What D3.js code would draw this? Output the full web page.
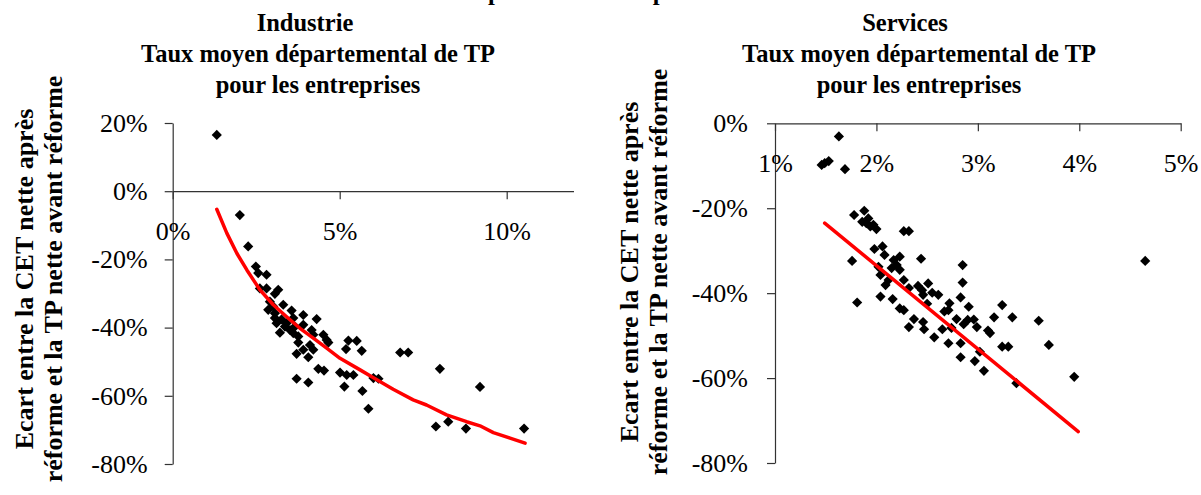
<!DOCTYPE html>
<html lang="fr">
<head>
<meta charset="utf-8">
<script src="https://cdn.jsdelivr.net/npm/d3@7"></script>
<style>
  html, body { margin: 0; padding: 0; background: #fff; }
  svg { display: block; }
  .tick text { font-family: "Liberation Serif", serif; font-size: 26px; fill: #000; }
  .tick line, .domain { stroke: #333; stroke-width: 1.2px; }
  .ttl { font-family: "Liberation Serif", serif; font-weight: bold; font-size: 24.5px; fill: #000; }
  .ytl { font-family: "Liberation Serif", serif; font-weight: bold; font-size: 26px; fill: #000; }
</style>
</head>
<body>
<script>
// Industrie : taux moyen de TP (%) et écart CET / TP (%)
const indTaux = [1.32, 2.01, 2.26, 2.49, 2.56, 2.81, 2.61, 2.81, 3.16, 3.06, 2.91, 3.31, 2.86, 3.06, 3.56, 3.91,
  4.31, 3.06, 3.26, 3.61, 3.91, 3.36, 3.51, 4.16, 3.21, 3.61, 3.76, 4.21, 4.51, 4.61, 4.66, 3.76, 4.11, 4.21,
  3.91, 3.71, 4.06, 5.26, 5.51, 5.19, 5.66, 6.81, 7.05, 4.36, 4.53, 5.01, 5.21, 5.41, 6.01, 6.16, 3.71, 4.06,
  5.14, 5.68, 5.86, 8.00, 9.20, 7.88, 8.25, 8.78, 10.52, 3.01, 3.41, 3.66, 3.11];
const indEcart = [16.5, -7.0, -16.2, -22.1, -24.0, -24.5, -28.5, -28.5, -28.9, -30.1, -32.4, -33.3, -34.8, -35.8, -35.0, -36.3,
  -37.5, -37.2, -37.6, -37.2, -39.2, -39.7, -40.7, -40.7, -41.5, -41.6, -42.6, -42.1, -42.1, -43.6, -44.4, -44.4, -45.1, -46.5,
  -46.5, -47.7, -48.7, -43.8, -43.9, -46.3, -46.8, -47.3, -47.3, -52.1, -52.6, -53.2, -53.9, -53.9, -54.8, -55.0, -55.0, -56.1,
  -57.3, -58.6, -63.8, -52.1, -57.4, -69.0, -67.6, -69.6, -69.6, -33.8, -38.7, -39.7, -38.7];
// Courbe d'ajustement (Industrie)
const indFitTaux = [1.32, 1.62, 1.92, 2.22, 2.61, 3.01, 3.41, 3.81, 4.21, 4.61, 5.01, 5.61, 6.01, 6.60, 7.20, 7.60, 8.20, 8.80, 9.20, 9.60, 10.10, 10.55];
const indFitEcart = [-5.3, -12.3, -18.2, -23.1, -28.9, -33.3, -36.8, -40.2, -43.1, -46.0, -49.0, -52.4, -54.7, -58.1, -61.2, -62.7, -65.6, -67.6, -68.8, -70.8, -72.4, -73.9];

// Services : taux moyen de TP (%) et écart CET / TP (%)
const serTaux = [1.63, 1.46, 1.49, 1.53, 1.69, 1.78, 1.88, 1.86, 1.90, 1.94, 1.92, 1.97, 2.00, 2.27, 2.32, 1.76, 1.81,
  1.98, 2.06, 2.08, 2.02, 2.17, 2.23, 2.20, 2.15, 2.04, 2.12, 2.09, 2.23, 2.27, 2.32, 2.44, 2.04, 2.16, 2.23, 2.27,
  2.41, 2.45, 2.46, 2.51, 2.55, 2.61, 2.50, 2.37, 2.32, 2.46, 2.47, 2.57, 2.65, 2.67, 2.72, 2.71, 2.79, 2.74, 2.71,
  2.83, 2.85, 2.85, 2.91, 2.86, 2.90, 2.96, 2.99, 2.83, 2.83, 2.97, 3.02, 3.06, 3.10, 3.12, 3.16, 3.24, 3.24, 3.30,
  3.34, 3.38, 3.60, 3.70, 3.95, 4.65];
const serEcart = [-3.1, -9.8, -9.4, -8.9, -10.8, -21.6, -20.6, -23.2, -23.5, -24.3, -22.4, -23.9, -24.9, -25.4, -25.4, -32.4, -42.2,
  -29.6, -29.0, -31.0, -33.8, -32.2, -31.4, -33.4, -34.1, -35.7, -36.9, -38.1, -34.5, -36.9, -38.8, -31.9, -40.8, -41.4, -43.6, -44.0,
  -38.3, -39.3, -40.4, -37.7, -39.9, -40.4, -42.5, -46.1, -48.0, -46.8, -48.5, -50.4, -48.5, -44.3, -42.4, -44.0, -46.1, -48.2, -51.8,
  -41.0, -33.4, -37.5, -43.2, -47.3, -46.3, -46.2, -48.0, -51.8, -55.1, -56.0, -53.8, -58.3, -48.8, -49.4, -45.7, -42.8, -52.6, -52.6,
  -45.7, -61.2, -46.5, -52.2, -59.7, -32.4];
// Droite d'ajustement (Services)
const serFitTaux = [1.49, 3.99];
const serFitEcart = [-23.5, -72.6];

// Graduations
const indXTicks = [0, 5, 10];
const indYTicks = [20, 0, -20, -40, -60, -80];
const serXTicks = [1, 2, 3, 4, 5];
const serYTicks = [0, -20, -40, -60, -80];

const titreGeneral = "Ecart selon le taux départemental de pression fiscale de TP";
const titreX = ["Taux moyen départemental de TP", "pour les entreprises"];
const titreY = ["Ecart entre la CET nette après", "réforme et la TP nette avant réforme"];
const pct = v => Math.round(v) + "%";

const W = 1201, H = 495;
const svg = d3.select("body").append("svg").attr("width", W).attr("height", H);

// titre général, en grande partie au-dessus du cadre
svg.append("text").attr("class", "ttl").attr("x", 571).attr("y", 0)
  .attr("text-anchor", "middle").text(titreGeneral);

function panel(cfg) {
  const g = svg.append("g");
  const x = d3.scaleLinear().domain(cfg.xDomain).range(cfg.xRange);
  const y = d3.scaleLinear().domain(cfg.yDomain).range(cfg.yRange);

  // titres
  g.append("text").attr("class", "ttl").attr("x", cfg.secteurX).attr("y", 31)
    .attr("text-anchor", "middle").text(cfg.secteur);
  titreX.forEach((t, i) => g.append("text").attr("class", "ttl")
    .attr("x", cfg.titreXc).attr("y", 62 + i * 30.5).attr("text-anchor", "middle").text(t));
  titreY.forEach((t, i) => g.append("text").attr("class", "ytl")
    .attr("transform", `translate(${cfg.yTitleX + i * 29},${cfg.yTitleY}) rotate(-90)`)
    .attr("text-anchor", "middle").text(t));

  // axes
  g.append("g").attr("transform", `translate(${cfg.xRange[0]},0)`)
    .call(d3.axisLeft(y).tickValues(cfg.yTicks).tickFormat(pct).tickSize(8).tickSizeOuter(0).tickPadding(cfg.yPad));
  g.append("g").attr("transform", `translate(0,${y(cfg.xAxisAt)})`)
    .call(d3.axisBottom(x).tickValues(cfg.xTicks).tickFormat(pct).tickSize(8).tickSizeOuter(0).tickPadding(22));

  // points
  const pts = cfg.xs.map((v, i) => [v, cfg.ys[i]]);
  const diamond = d3.symbol().type(d3.symbolSquare).size(52);
  g.append("g").selectAll("path").data(pts).join("path")
    .attr("d", diamond)
    .attr("transform", d => `translate(${x(d[0])},${y(d[1])}) rotate(45)`)
    .attr("fill", "#000");

  // ajustement
  const fit = cfg.fx.map((v, i) => [v, cfg.fy[i]]);
  g.append("path").datum(fit)
    .attr("d", d3.line().x(d => x(d[0])).y(d => y(d[1])))
    .attr("fill", "none").attr("stroke", "#ff0000").attr("stroke-width", 3.5)
    .attr("stroke-linejoin", "round").attr("stroke-linecap", "round");
}

panel({
  secteur: "Industrie", secteurX: 305, titreXc: 318,
  xDomain: [0, 12], xRange: [172.7, 573.5],
  yDomain: [-80, 20], yRange: [464, 123],
  xTicks: indXTicks, yTicks: indYTicks, xAxisAt: 0, yPad: 17,
  yTitleX: 33, yTitleY: 279,
  xs: indTaux, ys: indEcart, fx: indFitTaux, fy: indFitEcart
});

panel({
  secteur: "Services", secteurX: 905, titreXc: 919,
  xDomain: [1, 5], xRange: [775, 1180.7],
  yDomain: [-80, 0], yRange: [463, 123.3],
  xTicks: serXTicks, yTicks: serYTicks, xAxisAt: 0, yPad: 19,
  yTitleX: 638, yTitleY: 272,
  xs: serTaux, ys: serEcart, fx: serFitTaux, fy: serFitEcart
});
</script>
</body>
</html>
